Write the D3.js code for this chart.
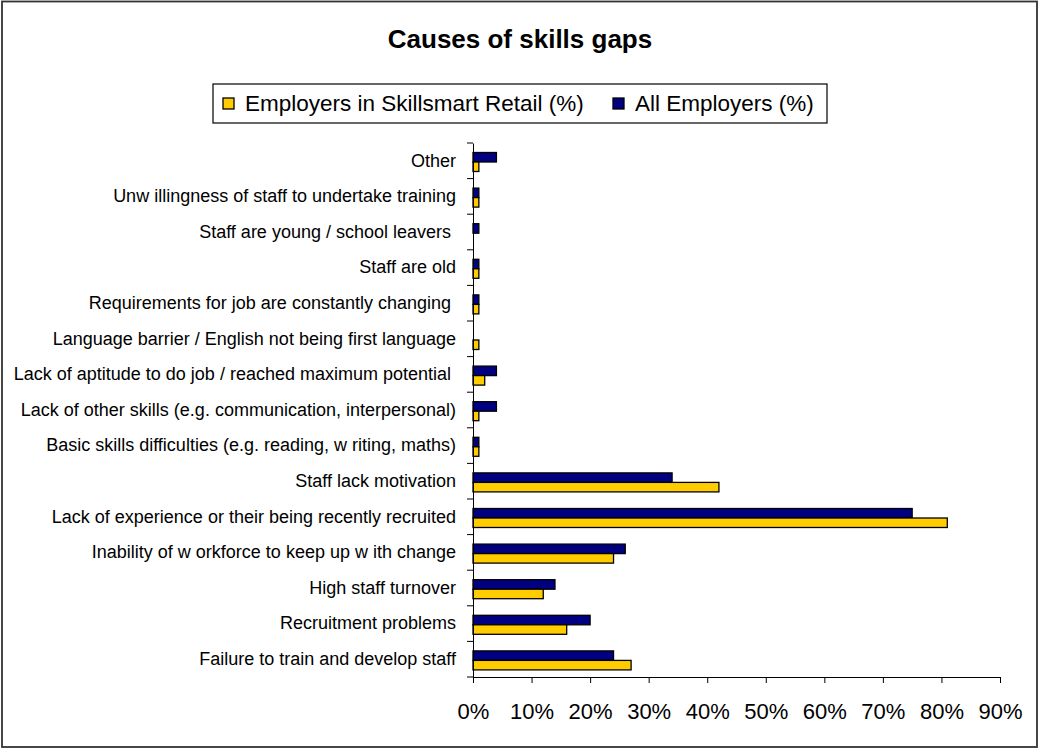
<!DOCTYPE html>
<html><head><meta charset="utf-8">
<script src="https://cdn.jsdelivr.net/npm/d3@7"></script>
<style>body{margin:0;background:#fff}svg{display:block;font-family:"Liberation Sans",Arial,sans-serif}text{white-space:pre}</style>
</head><body><svg id="c" width="1040" height="749"></svg>
<script>
const categories = [
  "Other",
  "Unw illingness of staff to undertake training",
  "Staff are young / school leavers ",
  "Staff are old",
  "Requirements for job are constantly changing ",
  "Language barrier / English not being first language",
  "Lack of aptitude to do job / reached maximum potential ",
  "Lack of other skills (e.g. communication, interpersonal)",
  "Basic skills difficulties (e.g. reading, w riting, maths)",
  "Staff lack motivation",
  "Lack of experience or their being recently recruited",
  "Inability of w orkforce to keep up w ith change",
  "High staff turnover",
  "Recruitment problems",
  "Failure to train and develop staff"
];
const skillsmartRetail = [1, 1, 0, 1, 1, 1, 2, 1, 1, 42, 81, 24, 12, 16, 27];
const allEmployers     = [4, 1, 1, 1, 1, 0, 4, 4, 1, 34, 75, 26, 14, 20, 24];
const xTicks = [0, 10, 20, 30, 40, 50, 60, 70, 80, 90];
const seriesNames = ["Employers in Skillsmart Retail (%)", "All Employers (%)"];
const seriesColors = ["#FFCC00", "#000080"];

const svg = d3.select("#c");
svg.append("rect").attr("x",2).attr("y",1.5).attr("width",1035).attr("height",745.5)
  .attr("fill","#fff").attr("stroke","#333").attr("stroke-width",1.8);

svg.append("text").attr("x",520).attr("y",48).attr("text-anchor","middle")
  .attr("font-size",26).attr("font-weight","bold").text("Causes of skills gaps");

const pLeft = 473, pRight = 1000, pTop = 143, pBottom = 677;
const x = d3.scaleLinear().domain([0, 90]).range([pLeft, pRight]);
const y = d3.scaleBand().domain(categories).range([pTop, pBottom]);
const inner = d3.scaleBand().domain(["all","retail"]).range([9.5, 28.5]);

const g = svg.append("g");
categories.forEach((c, i) => {
  const rows = [{k:"all", v: allEmployers[i], col: seriesColors[1]}, {k:"retail", v: skillsmartRetail[i], col: seriesColors[0]}];
  rows.forEach(r => {
    if (r.v <= 0) return;
    g.append("rect").attr("x", x(0)).attr("y", y(c) + inner(r.k))
      .attr("width", x(r.v) - x(0)).attr("height", inner.bandwidth())
      .attr("fill", r.col).attr("stroke", "#000").attr("stroke-width", 1.3);
  });
});

// y axis
const ya = svg.append("g").attr("transform", `translate(${pLeft},0)`)
  .call(d3.axisLeft(y).tickSize(0).tickPadding(17));
ya.select(".domain").attr("stroke","#000");
ya.selectAll("text").attr("font-size",18).attr("fill","#000").attr("font-family","Liberation Sans, Arial, sans-serif");
// category boundary ticks
const bounds = categories.map(c => y(c)).concat([pBottom]);
svg.append("g").selectAll("line").data(bounds).join("line")
  .attr("x1", pLeft - 6).attr("x2", pLeft).attr("y1", d => d).attr("y2", d => d)
  .attr("stroke", "#000");

// x axis
const xa = svg.append("g").attr("transform", `translate(0,${pBottom})`)
  .call(d3.axisBottom(x).tickValues(xTicks).tickFormat(d => d + "%").tickSize(6).tickPadding(20).tickSizeOuter(0));
xa.select(".domain").attr("stroke","#000");
xa.selectAll("line").attr("stroke","#000");
xa.selectAll("text").attr("font-size",22).attr("fill","#000").attr("font-family","Liberation Sans, Arial, sans-serif");

// legend
const lg = svg.append("g");
lg.append("rect").attr("x",213).attr("y",84).attr("width",614).attr("height",39)
  .attr("fill","#fff").attr("stroke","#000").attr("stroke-width",1.2);
const lx = [223, 613];
seriesNames.forEach((n, i) => {
  lg.append("rect").attr("x", lx[i]).attr("y", 98).attr("width", 11).attr("height", 11)
    .attr("fill", seriesColors[i]).attr("stroke", "#000").attr("stroke-width", 1.3);
  lg.append("text").attr("x", lx[i] + 22).attr("y", 111).attr("font-size", 22.5).text(n);
});
</script></body></html>
